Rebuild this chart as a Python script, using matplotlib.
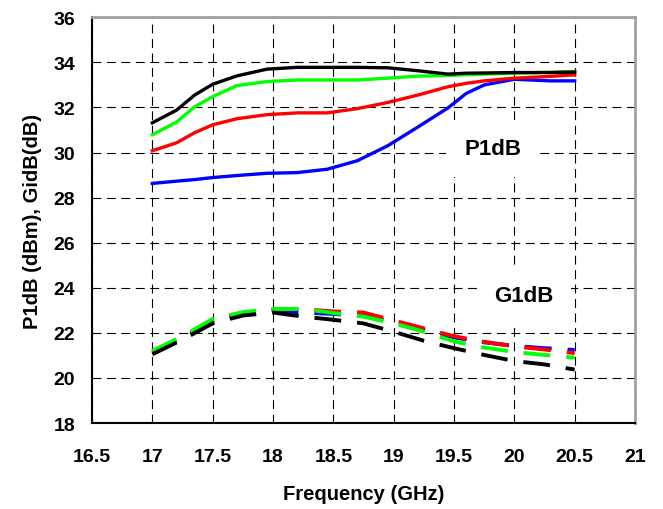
import matplotlib
matplotlib.use("Agg")
import matplotlib.pyplot as plt

plt.rcParams["font.family"] = ["Liberation Sans", "DejaVu Sans"]
plt.rcParams["font.weight"] = "bold"

# P1dB curves (solid)
freq_p = [17.0, 17.2, 17.35, 17.5, 17.7, 17.95, 18.2, 18.45, 18.7, 18.95,
          19.2, 19.45, 19.6, 19.75, 20.0, 20.3, 20.5]
p1db_black = [31.32, 31.88, 32.55, 33.03, 33.40, 33.70, 33.78, 33.78, 33.78, 33.76,
              33.63, 33.48, 33.52, 33.53, 33.55, 33.55, 33.57]
p1db_green = [30.79, 31.35, 32.03, 32.48, 32.97, 33.15, 33.22, 33.22, 33.22, 33.30,
              33.39, 33.42, 33.45, 33.48, 33.52, 33.56, 33.60]
p1db_red = [30.08, 30.43, 30.88, 31.23, 31.50, 31.68, 31.76, 31.76, 31.95, 32.22,
            32.55, 32.92, 33.07, 33.18, 33.30, 33.38, 33.45]
p1db_blue = [28.63, 28.73, 28.80, 28.89, 28.98, 29.08, 29.11, 29.26, 29.64, 30.30,
             31.13, 31.98, 32.62, 33.00, 33.25, 33.18, 33.18]

# G1dB curves (dashed)
freq_g = [17.0, 17.25, 17.5, 17.75, 18.0, 18.25, 18.5, 18.75, 19.0, 19.25,
          19.5, 19.75, 20.0, 20.25, 20.5]
g1db_green = [21.20, 21.85, 22.62, 22.92, 23.06, 23.06, 22.88, 22.72, 22.42, 22.05,
              21.62, 21.35, 21.15, 21.02, 20.90]
g1db_red = [21.15, 21.80, 22.58, 22.88, 23.05, 23.05, 22.95, 22.90, 22.55, 22.20,
            21.85, 21.60, 21.40, 21.26, 21.10]
g1db_blue = [21.10, 21.75, 22.52, 22.84, 23.00, 22.90, 22.84, 22.75, 22.50, 22.15,
             21.80, 21.58, 21.42, 21.32, 21.24]
g1db_black = [21.05, 21.70, 22.42, 22.77, 22.90, 22.72, 22.58, 22.42, 22.05, 21.65,
              21.32, 21.02, 20.75, 20.60, 20.37]

xticks = [16.5, 17, 17.5, 18, 18.5, 19, 19.5, 20, 20.5, 21]
xtick_labels = ["16.5", "17", "17.5", "18", "18.5", "19", "19.5", "20", "20.5", "21"]
yticks = list(range(18, 37, 2))

fig = plt.figure(figsize=(6.63, 5.10), dpi=100)
ax = fig.add_axes([0.1388, 0.1686, 0.8190, 0.7955])

solid_lw = 2.4
dash_lw = 2.8
dash = (0, (6.9, 4.1))

ax.plot(freq_p, p1db_blue, color="#0000ff", lw=solid_lw)
ax.plot(freq_p, p1db_red, color="#ff0000", lw=solid_lw)
ax.plot(freq_p, p1db_green, color="#00ff00", lw=solid_lw)
ax.plot(freq_p, p1db_black, color="black", lw=solid_lw)

ax.plot(freq_g, g1db_blue, color="#0000ff", lw=dash_lw, linestyle=dash)
ax.plot(freq_g, g1db_red, color="#ff0000", lw=dash_lw, linestyle=dash)
ax.plot(freq_g, g1db_green, color="#00ff00", lw=dash_lw, linestyle=dash)
ax.plot(freq_g, g1db_black, color="black", lw=dash_lw, linestyle=dash)

ax.set_xlim(16.5, 21)
ax.set_ylim(18, 36)
ax.set_xticks(xticks)
ax.set_xticklabels(xtick_labels)
ax.set_yticks(yticks)
ax.tick_params(axis="both", length=0, labelsize=14)
ax.tick_params(axis="x", pad=18)
ax.tick_params(axis="y", pad=12)
ax.grid(True, color="black", lw=0.8, linestyle=(0, (8, 5)))
ax.set_axisbelow(True)

for s in ["left", "bottom"]:
    ax.spines[s].set_color("black")
    ax.spines[s].set_linewidth(1.5)
for s in ["top", "right"]:
    ax.spines[s].set_color("#a0a0a0")
    ax.spines[s].set_linewidth(2)

ax.set_xlabel("Frequency (GHz)", fontsize=14.5, fontweight="bold", labelpad=14)
ax.set_ylabel("P1dB (dBm), GidB(dB)", fontsize=14.5, fontweight="bold", labelpad=8)

box = dict(boxstyle="square,pad=0.8", facecolor="white", edgecolor="none")
ax.text(19.82, 30.19, "P1dB", fontsize=16, fontweight="bold",
        ha="center", va="center", bbox=box, zorder=5)
ax.text(20.08, 23.65, "G1dB", fontsize=16, fontweight="bold",
        ha="center", va="center", bbox=box, zorder=5)

fig.savefig("out.png", dpi=100)
